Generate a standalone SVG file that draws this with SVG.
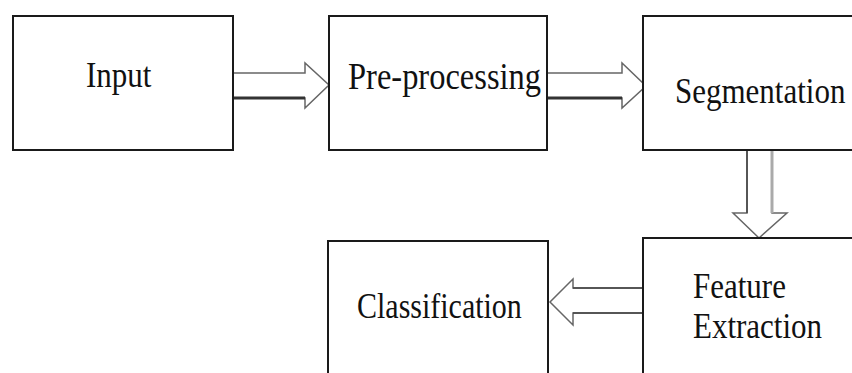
<svg xmlns="http://www.w3.org/2000/svg" width="852" height="373" viewBox="0 0 852 373">
<style>
.box{fill:#fff;stroke:#1a1a1a;stroke-width:2}
.lbl{font-family:"Liberation Serif","Times New Roman",serif;font-size:31px;fill:#111}
.arr{fill:#fff;stroke:#666;stroke-width:1.5;stroke-linejoin:miter}
.shd{stroke:#333;stroke-width:3;fill:none}
.lt{stroke:#444;stroke-width:1.5;fill:none}
</style>
<rect width="852" height="373" fill="#fff"/>
<g id="connectors">
  <polygon class="arr" points="233,73 305,73 305,63 329,85 305,108 305,98 233,98"/>
  <line class="shd" x1="233" y1="98" x2="305" y2="98"/>
  <polygon class="arr" points="547,73 622,73 622,63 646,86 622,108 622,98 547,98"/>
  <line class="shd" x1="547" y1="98" x2="622" y2="98"/>
  <polygon class="arr" points="747,150 772,150 772,213 787,213 759,238 733,213 747,213"/>
  <line class="lt" x1="747" y1="150" x2="747" y2="213"/>
  <line x1="772" y1="150" x2="772" y2="213" stroke="#aaa" stroke-width="3"/>
  <polygon class="arr" points="643,288 573,288 573,279 550,302 573,325 573,313 643,313"/>
  <line class="lt" x1="573" y1="288" x2="643" y2="288"/>
  <line class="lt" x1="573" y1="313" x2="643" y2="313"/>
</g>
<g id="input">
  <rect class="box" x="13" y="16" width="220" height="134"/>
  <text class="lbl" transform="translate(86,87) scale(1,1.17)">Input</text>
</g>
<g id="preprocessing">
  <rect class="box" x="329" y="16" width="218" height="134"/>
  <text class="lbl" transform="translate(348,89) scale(1,1.17)" style="font-size:32.5px">Pre-processing</text>
</g>
<g id="segmentation">
  <rect class="box" x="643" y="16" width="220" height="134"/>
  <text class="lbl" transform="translate(675,103) scale(1,1.17)">Segmentation</text>
</g>
<g id="feature-extraction">
  <rect class="box" x="643" y="238" width="220" height="145"/>
  <text class="lbl" transform="translate(693,298) scale(1,1.17)">Feature</text>
  <text class="lbl" transform="translate(693,338) scale(1,1.17)">Extraction</text>
</g>
<g id="classification">
  <rect class="box" x="328" y="241" width="220" height="142"/>
  <text class="lbl" transform="translate(357,318) scale(1,1.17)" style="font-size:30px">Classification</text>
</g>
</svg>
